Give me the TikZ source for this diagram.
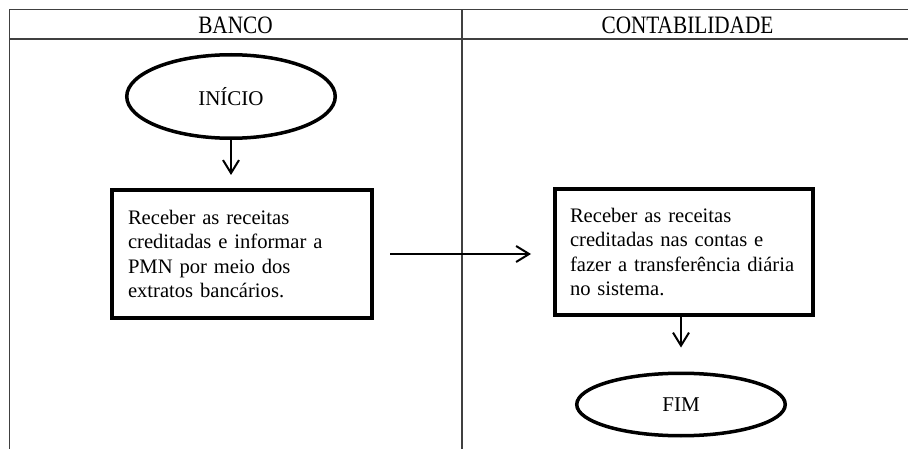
\documentclass[tikz,border=0pt]{standalone}
\usepackage{fontspec}
\setmainfont{Liberation Serif}
\newfontfamily\headfont[FakeStretch=0.85]{Liberation Serif}
\usetikzlibrary{shapes.geometric,arrows.meta,calc}
\begin{document}
\begin{tikzpicture}[x=1pt,y=-1pt,
		lane/.style={line width=1.3pt, black!75},
		lanehead/.style={anchor=base, inner sep=0pt, font=\headfont\fontsize{25}{28}\selectfont},
		terminal/.style={ellipse, draw, line width=3.5pt, minimum width=208.5pt, inner sep=0pt, font=\fontsize{21}{24.3}\selectfont},
		task/.style={rectangle, draw, line width=4pt, minimum width=260pt, minimum height=128pt, text width=228pt, align=left, inner sep=0pt, font=\fontsize{20.6}{24.3}\selectfont},
		flow/.style={line width=2pt, -{Straight Barb[length=13pt,width=16pt,line width=2pt]}}]
					% page size
					\useasboundingbox (0,0) rectangle (908,449);
					% lanes
					\draw[lane] (9.5,9.5) -- (908,9.5);
					\draw[lane] (9.5,39) -- (908,39);
					\draw[lane] (9.5,9.5) -- (9.5,449);
					\draw[lane] (462,9.5) -- (462,449);
					% lane labels
					\node[lanehead] (banco) at (235.5,34) {BANCO};
					\node[lanehead] (contab) at (687.5,34) {CONTABILIDADE};

					% steps
					\node[terminal, minimum height=83.5pt] (inicio) at (231,96.5) {INÍCIO};
					\node[task] (receber1) at (242,254) {Receber as receitas\\creditadas e informar a\\PMN por meio dos\\extratos bancários.};
					\node[task, minimum width=258pt, minimum height=126pt] (receber2) at (684,252) {Receber as receitas\\creditadas nas contas e\\fazer a transferência diária\\no sistema.};
					\node[terminal, minimum height=62.5pt] (fim) at (681,404.5) {FIM};

					% flow
					\draw[flow, shorten >=13pt] (inicio.south) -- (inicio.south |- receber1.north);
					\draw[flow, shorten <=16pt, shorten >=22pt]
								 (receber1.east)
							  -- (receber1.east -| receber2.west);
					\draw[flow, shorten >=24pt] (fim.north |- receber2.south) -- (fim.north);
\end{tikzpicture}
\end{document}
